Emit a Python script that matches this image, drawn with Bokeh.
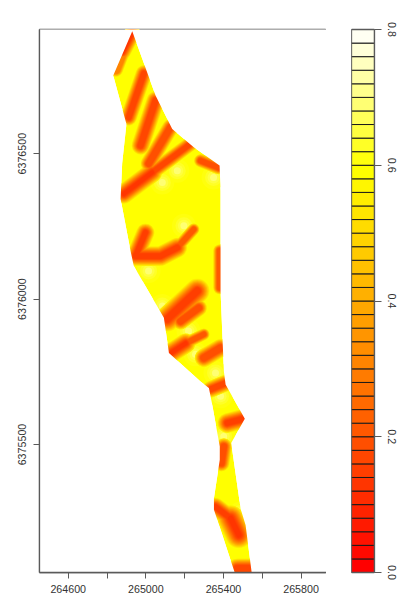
import colorsys
from bokeh.embed import file_html
from bokeh.layouts import column, row
from bokeh.models import FixedTicker, Range1d
from bokeh.plotting import figure
from bokeh.resources import INLINE

# Site outline (easting, northing)
outline_e = [264930, 264832, 264900, 264878, 264870, 264921, 264938, 265093, 265119, 265282,
             265325, 265342, 265381, 265381, 265351, 265351, 265394, 265457, 265545, 265514,
             265488, 265440, 265510, 265411, 265402, 265385, 265385, 265380, 265247, 265136, 265050]
outline_n = [6376921, 6376769, 6376602, 6376466, 6376344, 6376166, 6376114, 6375936, 6375815, 6375717,
             6375694, 6375638, 6375493, 6375448, 6375315, 6375276, 6375190, 6375062, 6375062, 6375223,
             6375280, 6375505, 6375589, 6375706, 6375752, 6376028, 6376372, 6376459, 6376522, 6376585, 6376700]

# Low-value bands
band_e = [[264930, 264880], [264880, 264845], [264990, 264912], [265050, 264973], [265127, 265015],
          [265230, 265033], [265033, 264887], [265282, 265375],
          [264998, 264947], [264947, 265076, 265162], [265162, 265247],
          [265381, 265381], [265265, 265110], [265273, 265179], [265299, 265205], [265205, 265130],
          [265385, 265299], [265411, 265334], [265505, 265420], [265402, 265389],
          [265359, 265437], [265437, 265479], [265540, 265471]]
band_n = [[6376914, 6376850], [6376850, 6376790], [6376776, 6376625], [6376683, 6376528], [6376591, 6376466],
          [6376534, 6376436], [6376436, 6376362], [6376476, 6376452],
          [6376229, 6376148], [6376148, 6376148, 6376177], [6376177, 6376240],
          [6376166, 6376039], [6376028, 6375931], [6375970, 6375924], [6375879, 6375848], [6375848, 6375815],
          [6375832, 6375798], [6375711, 6375690], [6375589, 6375574], [6375493, 6375436],
          [6375286, 6375246], [6375246, 6375189], [6375074, 6375074]]
band_low = [0.12, 0.30, 0.16, 0.16, 0.18, 0.16, 0.12, 0.18,
            0.14, 0.14, 0.20,
            0.20, 0.14, 0.18, 0.20, 0.12,
            0.18, 0.16, 0.14, 0.18,
            0.14, 0.12, 0.16]
band_px = [10, 9, 10, 11, 10, 9, 12, 8,
           11, 12, 7,
           8, 15, 10, 7, 12,
           11, 10, 12, 10,
           11, 16, 12]

# Pale high-value spots
spot_e = [265085, 265162, 265349, 265196, 265014, 265085, 265220, 265256, 265359, 265385, 265401, 265488]
spot_n = [6376401, 6376441, 6376418, 6376252, 6376097, 6375976, 6375890, 6375810, 6375746, 6375666, 6375528, 6375263]

# Scale
levels_low = [i * 0.02 for i in range(40)]
x_ticks = [264600, 264800, 265000, 265200, 265400, 265600, 265800]
x_labels = {264600: "264600", 264800: "", 265000: "265000", 265200: "", 265400: "265400", 265600: "", 265800: "265800"}
y_ticks = [6375500, 6376000, 6376500]
legend_ticks = [0.0, 0.2, 0.4, 0.6, 0.8]
legend_labels = ["0.0", "0.2", "0.4", "0.6", "0.8"]


def hexcol(h, s):
    r, g, b = colorsys.hsv_to_rgb(h, s, 1)
    return "#%02x%02x%02x" % (round(r * 255), round(g * 255), round(b * 255))


heat = [hexcol(i / 29 / 6, 1) for i in range(30)] + [hexcol(1 / 6, 0.95 - 0.1 * i) for i in range(10)]


def col(v):
    return heat[min(int(v / 0.02 + 1e-6), 39)]


FONT = "Liberation Sans"
AX = "#5a5a5a"
TXT = "#333333"
X0, X1 = 264452, 265931
Y0, Y1 = 6375060, 6376927

p = figure(frame_width=287, frame_height=543, min_border_left=39, min_border_top=29, min_border_right=0,
           min_border_bottom=26, output_backend="svg", toolbar_location=None,
           x_range=Range1d(X0, X1), y_range=Range1d(Y0, Y1))
p.grid.visible = False
p.outline_line_color = AX
p.outline_line_width = 1.3
p.background_fill_color = "white"

p.patch(outline_e, outline_n, fill_color=heat[29], line_color=None)

for size, v in [(24, 0.60), (17, 0.62), (12, 0.64), (7, 0.68)]:
    p.scatter(spot_e, spot_n, size=size, marker="circle", fill_color=col(v), line_color=None)

for k in range(28, 5, -1):
    v = k * 0.02
    f = 0.3 + 1.35 * (max(v - 0.12, 0.002) / 0.44) ** 0.75
    idx = [i for i, low in enumerate(band_low) if low <= v]
    if idx:
        p.multi_line([band_e[i] for i in idx], [band_n[i] for i in idx],
                     line_width=[band_px[i] * f for i in idx],
                     line_color=col(v), line_cap="round", line_join="round")

# white outside the site
p.multi_polygons(xs=[[[[X0 - 50, X1 + 50, X1 + 50, X0 - 50], outline_e]]],
                 ys=[[[[Y0 - 50, Y0 - 50, Y1 + 50, Y1 + 50], outline_n]]],
                 fill_color="white", line_color=None)

for ax in [p.xaxis[0], p.yaxis[0]]:
    ax.axis_line_color = AX
    ax.axis_line_width = 1.3
    ax.major_tick_line_color = AX
    ax.major_tick_in = 0
    ax.major_tick_out = 6
    ax.minor_tick_line_color = None
    ax.major_label_text_font = FONT
    ax.major_label_text_font_size = "10.7px"
    ax.major_label_text_color = TXT

p.xaxis[0].ticker = FixedTicker(ticks=x_ticks)
p.xaxis[0].major_label_overrides = x_labels
p.xaxis[0].major_label_standoff = 6
p.yaxis[0].ticker = FixedTicker(ticks=y_ticks)
p.yaxis[0].major_label_overrides = {t: str(t) for t in y_ticks}
p.yaxis[0].major_label_orientation = "vertical"
p.yaxis[0].major_label_standoff = 7

# Colour key: its frame reaches past 0 and 0.8 so the end labels sit centred on their ticks
PAD = 0.0221
q = figure(frame_width=23, frame_height=573, min_border_left=25, min_border_top=14, min_border_right=0,
           min_border_bottom=11, output_backend="svg", toolbar_location=None,
           x_range=Range1d(0, 1), y_range=Range1d(-PAD, 0.8 + PAD), y_axis_location="right")
q.grid.visible = False
q.xaxis.visible = False
q.outline_line_color = None
q.quad(left=0, right=1, bottom=levels_low, top=[v + 0.02 for v in levels_low], fill_color=heat,
       line_color="#1a1a1a", line_width=1)
q.quad(left=[0], right=[1], bottom=[0], top=[0.8], fill_color=None, line_color=AX, line_width=1.3)
ay = q.yaxis[0]
ay.ticker = FixedTicker(ticks=legend_ticks)
ay.major_label_overrides = {t: s for t, s in zip(legend_ticks, legend_labels)}
ay.bounds = (0, 0.8)
ay.major_label_text_font = FONT
ay.major_label_text_font_size = "10.7px"
ay.major_label_text_color = TXT
ay.major_label_orientation = "vertical"
ay.major_label_standoff = 6
ay.axis_line_color = AX
ay.axis_line_width = 1.3
ay.major_tick_line_color = AX
ay.major_tick_in = 0
ay.major_tick_out = 7
ay.minor_tick_line_color = None

layout = row(p, column(q), spacing=0)
open("out.html", "w").write(file_html(layout, INLINE))
